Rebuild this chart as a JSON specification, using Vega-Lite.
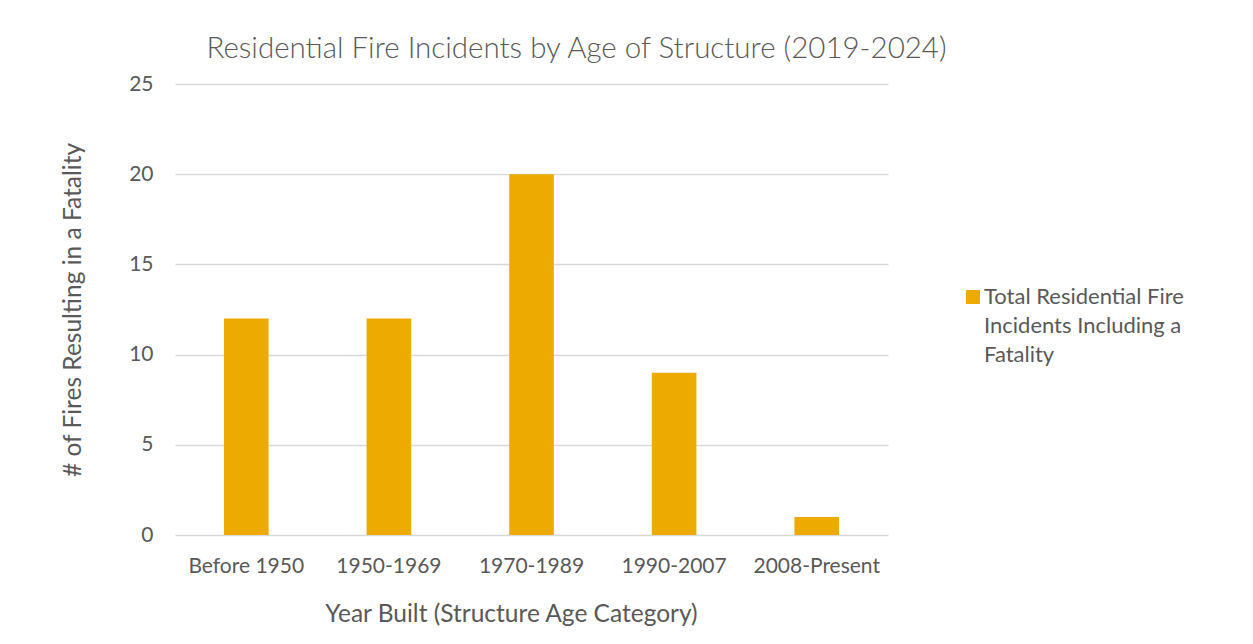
{
  "$schema": "https://vega.github.io/schema/vega-lite/v6.json",
  "width": 713,
  "height": 451,
  "autosize": {"type": "none"},
  "padding": {"left": 175, "top": 84, "right": 365, "bottom": 109},
  "background": "white",
  "title": {
    "text": "Residential Fire Incidents by Age of Structure (2019-2024)",
    "font": "Lato",
    "fontSize": 29.5,
    "fontWeight": 300,
    "color": "#595959",
    "anchor": "middle",
    "dx": 45,
    "offset": 8.5
  },
  "data": {
    "values": [
      {"category": "Before 1950", "series": "Total Residential Fire Incidents Including a Fatality", "count": 12},
      {"category": "1950-1969", "series": "Total Residential Fire Incidents Including a Fatality", "count": 12},
      {"category": "1970-1989", "series": "Total Residential Fire Incidents Including a Fatality", "count": 20},
      {"category": "1990-2007", "series": "Total Residential Fire Incidents Including a Fatality", "count": 9},
      {"category": "2008-Present", "series": "Total Residential Fire Incidents Including a Fatality", "count": 1}
    ]
  },
  "mark": {"type": "bar"},
  "encoding": {
    "x": {
      "field": "category",
      "type": "nominal",
      "sort": null,
      "scale": {"paddingInner": 0.687, "paddingOuter": 0.3435},
      "axis": {
        "title": "Year Built (Structure Age Category)",
        "titleX": 336,
        "titlePadding": 26,
        "labelAngle": 0,
        "labelPadding": 20,
        "domain": false,
        "ticks": false
      }
    },
    "y": {
      "field": "count",
      "type": "quantitative",
      "scale": {"domain": [0, 25]},
      "axis": {
        "title": "# of Fires Resulting in a Fatality",
        "values": [0, 5, 10, 15, 20, 25],
        "labelPadding": 22,
        "titlePadding": 43,
        "domain": false,
        "ticks": false,
        "grid": true
      }
    },
    "color": {
      "field": "series",
      "type": "nominal",
      "scale": {"range": ["#EDAA00"]},
      "legend": {
        "title": null,
        "orient": "none",
        "legendX": 787,
        "legendY": 202,
        "symbolType": "square",
        "symbolSize": 196,
        "symbolStrokeWidth": 0,
        "labelExpr": "['Total Residential Fire', 'Incidents Including a', 'Fatality']",
        "labelFont": "Lato",
        "labelFontSize": 22,
        "labelColor": "#595959",
        "labelOffset": 0,
        "labelLimit": 400,
        "labelBaseline": "middle"
      }
    }
  },
  "config": {
    "view": {"stroke": null},
    "axis": {
      "labelFont": "Lato",
      "labelFontSize": 21,
      "labelColor": "#595959",
      "titleFont": "Lato",
      "titleFontSize": 24.5,
      "titleFontWeight": "normal",
      "titleColor": "#595959",
      "gridColor": "#D9D9D9",
      "gridWidth": 1.3
    },
    "style": {"guide-label": {"lineHeight": 29}}
  }
}
